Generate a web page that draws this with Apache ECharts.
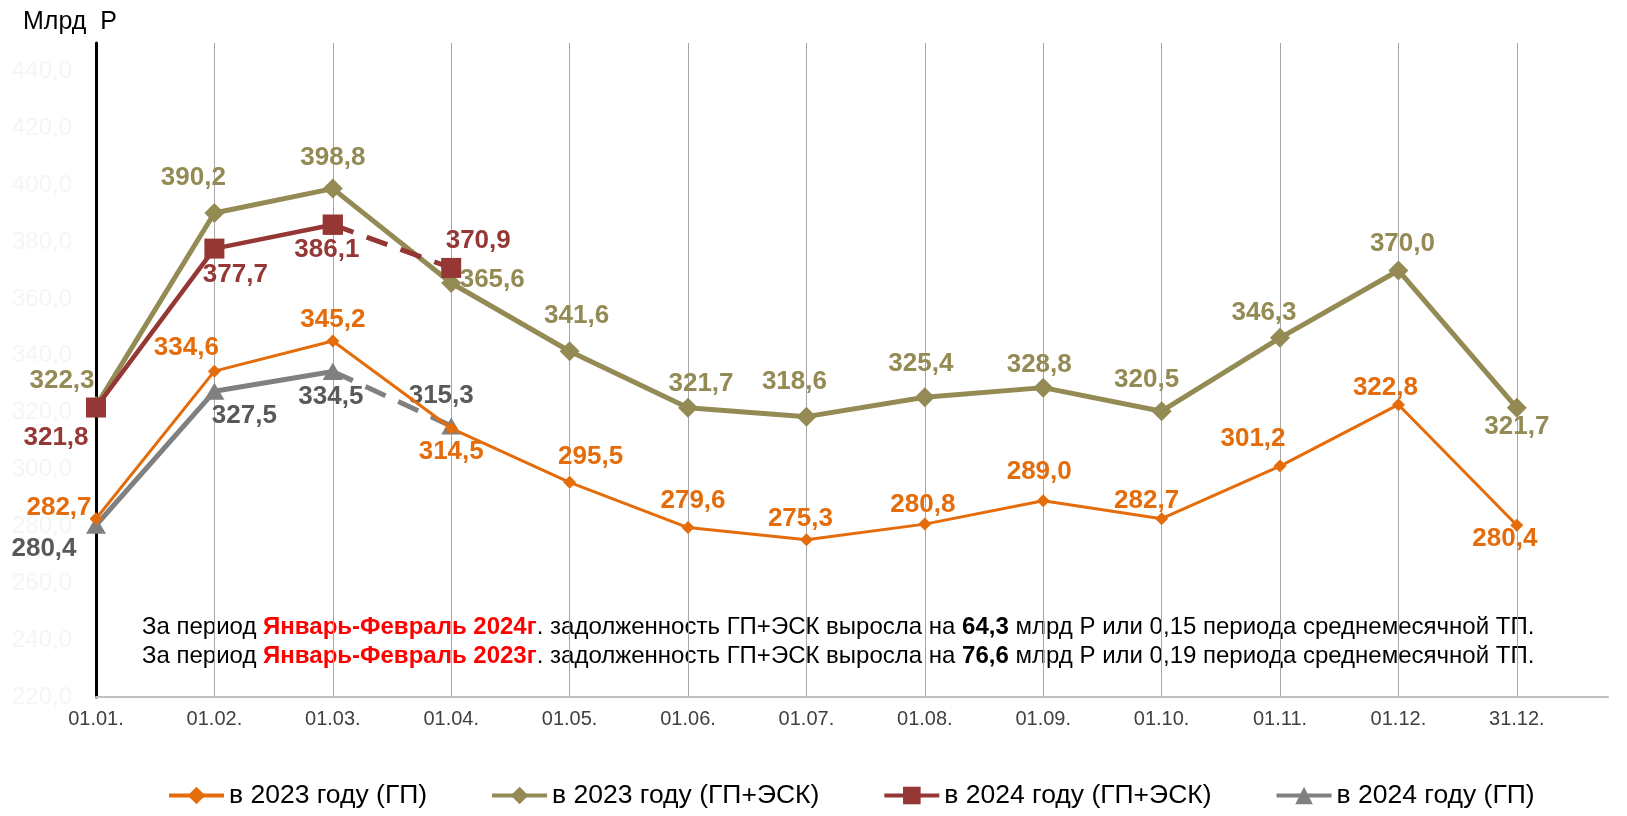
<!DOCTYPE html>
<html>
<head>
<meta charset="utf-8">
<title>Задолженность ГП и ГП+ЭСК</title>
<script src="https://cdn.jsdelivr.net/npm/echarts@6/dist/echarts.min.js"></script>
<style>
  html, body { margin: 0; padding: 0; background: #fff; }
  #chart { width: 1627px; height: 816px; }
</style>
</head>
<body>
<div id="chart"></div>
<script>
// data
var dates = ['01.01.', '01.02.', '01.03.', '01.04.', '01.05.', '01.06.', '01.07.',
             '01.08.', '01.09.', '01.10.', '01.11.', '01.12.', '31.12.'];
var gp2023    = [282.7, 334.6, 345.2, 314.5, 295.5, 279.6, 275.3, 280.8, 289.0, 282.7, 301.2, 322.8, 280.4];
var gpEsk2023 = [322.3, 390.2, 398.8, 365.6, 341.6, 321.7, 318.6, 325.4, 328.8, 320.5, 346.3, 370.0, 321.7];
var gpEsk2024 = [321.8, 377.7, 386.1, 370.9];
var gp2024    = [280.4, 327.5, 334.5, 315.3];
var names = ['в 2023 году (ГП)', 'в 2023 году (ГП+ЭСК)', 'в 2024 году (ГП+ЭСК)', 'в 2024 году (ГП)'];

// label placement (offset of label centre from the point)
var offGp2023    = [[-37,-11],[-28,-23],[0,-21],[0,24],[21,-25],[5,-27],[-6,-21],[-2,-19],[-4,-29],[-15,-18],[-27,-27],[-13,-17],[-12,14]];
var offGpEsk2023 = [[-34,-25],[-21,-35],[0,-31],[41,-3],[7,-35],[13,-24],[-12,-35],[-4,-33],[-4,-23],[-15,-31],[-16,-25],[4,-27],[0,19]];
var offGpEsk2024 = [[-40,30],[21,26],[-6,25],[27,-27]];
var offGp2024    = [[-52,24],[30,25],[-2,25],[-10,-30]];

var C_ORANGE = '#E46C0A', C_OLIVE = '#948A54', C_RED = '#953735', C_GRAY = '#808080';
var FONT = 'Liberation Sans, Arial, sans-serif';

function fmt(v) { return v.toFixed(1).replace('.', ','); }

function points(arr, from, to, offs, color) {
  var out = [];
  for (var i = from; i <= to; i++) {
    out.push({ value: [i, arr[i]], label: { show: true, offset: offs[i], color: color } });
  }
  return out;
}

// dashed tail: first point has no label (already drawn by the solid part)
function tail(arr, offs, color) {
  var d = points(arr, 2, 3, offs, color);
  d[0].label = { show: false };
  return d;
}

var labelBase = {
  show: true,
  position: 'inside',
  fontFamily: FONT,
  fontWeight: 'bold',
  fontSize: 26,
  formatter: function (p) { return fmt(p.value[1]); }
};

var myChart = echarts.init(document.getElementById('chart'));

var option = {
  animation: false,
  backgroundColor: '#fff',
  grid: { left: 96, right: 19, top: 43, bottom: 119, containLabel: false },
  legend: {
    data: names,
    left: 162,
    bottom: 2,
    itemGap: 63,
    itemWidth: 55,
    itemHeight: 22,
    lineStyle: { width: 4 },
    textStyle: { fontFamily: FONT, fontSize: 26.5, color: '#000' }
  },
  xAxis: {
    type: 'value',
    min: 0,
    max: 12.77,
    interval: 1,
    axisLine: { show: true, lineStyle: { color: '#BFBFBF', width: 2 } },
    axisTick: { show: false },
    splitLine: { show: true, showMinLine: false, showMaxLine: false, lineStyle: { color: '#A6A6A6', width: 1 } },
    axisLabel: {
      margin: 12,
      fontFamily: FONT,
      fontSize: 20,
      color: '#404040',
      showMaxLabel: false,
      formatter: function (v) {
        var i = Math.round(v);
        return Math.abs(v - i) < 1e-6 && dates[i] ? dates[i] : '';
      }
    }
  },
  yAxis: {
    type: 'value',
    min: 220,
    max: 450,
    interval: 20,
    axisLine: { show: true, lineStyle: { color: '#000', width: 3 } },
    axisTick: { show: false },
    splitLine: { show: false },
    axisLabel: {
      margin: 24,
      showMaxLabel: false,
      fontFamily: FONT,
      fontSize: 24,
      color: '#F5F5F5',
      formatter: function (v) { return fmt(v); }
    }
  },
  graphic: [
    {
      type: 'text', left: 23, top: 10,
      style: { text: 'Млрд  Р', font: '25px "Liberation Sans", Arial, sans-serif', fill: '#000' }
    },
    {
      type: 'text', left: 142, top: 613,
      style: {
        text: 'За период {r|Январь-Февраль 2024г}. задолженность ГП+ЭСК выросла на {b|64,3} млрд Р или 0,15 периода среднемесячной ТП.\n' +
              'За период {r|Январь-Февраль 2023г}. задолженность ГП+ЭСК выросла на {b|76,6} млрд Р или 0,19 периода среднемесячной ТП.',
        font: '24px "Liberation Sans", Arial, sans-serif',
        fill: '#000',
        lineHeight: 29,
        rich: {
          r: { fill: '#FF0000', fontWeight: 'bold', fontSize: 24, fontFamily: 'Liberation Sans', lineHeight: 29 },
          b: { fill: '#000', fontWeight: 'bold', fontSize: 24, fontFamily: 'Liberation Sans', lineHeight: 29 }
        }
      }
    }
  ],
  series: [
    {
      name: names[0], type: 'line',
      data: points(gp2023, 0, 12, offGp2023, C_ORANGE),
      symbol: 'diamond', symbolSize: 13,
      itemStyle: { color: C_ORANGE },
      lineStyle: { color: C_ORANGE, width: 3 },
      label: labelBase, z: 3
    },
    {
      name: names[1], type: 'line',
      data: points(gpEsk2023, 0, 12, offGpEsk2023, C_OLIVE),
      symbol: 'diamond', symbolSize: 20,
      itemStyle: { color: C_OLIVE },
      lineStyle: { color: C_OLIVE, width: 5 },
      label: labelBase, z: 3
    },
    {
      name: names[2], type: 'line',
      data: points(gpEsk2024, 0, 2, offGpEsk2024, C_RED),
      symbol: 'rect', symbolSize: 20,
      itemStyle: { color: C_RED },
      lineStyle: { color: C_RED, width: 4.5 },
      label: labelBase, z: 4
    },
    {
      name: names[2] + ' ', type: 'line',
      data: tail(gpEsk2024, offGpEsk2024, C_RED),
      symbol: 'rect', symbolSize: 20,
      itemStyle: { color: C_RED },
      lineStyle: { color: C_RED, width: 5, type: [22, 14] },
      label: labelBase, z: 4
    },
    {
      name: names[3], type: 'line',
      data: points(gp2024, 0, 2, offGp2024, '#595959'),
      symbol: 'triangle', symbolSize: [20, 17],
      itemStyle: { color: C_GRAY },
      lineStyle: { color: C_GRAY, width: 5 },
      label: labelBase, z: 2
    },
    {
      name: names[3] + ' ', type: 'line',
      data: tail(gp2024, offGp2024, '#595959'),
      symbol: 'triangle', symbolSize: [20, 17],
      itemStyle: { color: C_GRAY },
      lineStyle: { color: C_GRAY, width: 5, type: [22, 14] },
      label: labelBase, z: 2
    }
  ]
};

myChart.setOption(option);
</script>
</body>
</html>
